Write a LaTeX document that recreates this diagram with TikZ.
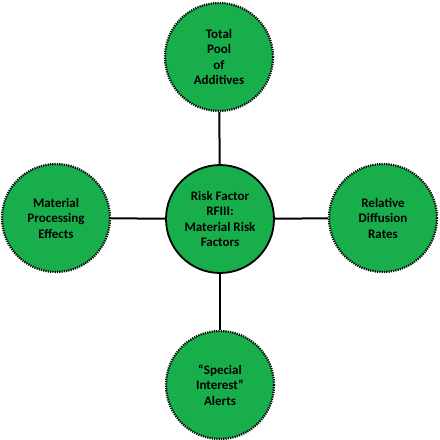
\documentclass[tikz,border=0pt]{standalone}
\usepackage{fontspec}
\setmainfont{Carlito}
\definecolor{ngreen}{RGB}{24,174,76}
\begin{document}
\begin{tikzpicture}[x=1pt,y=-1pt,
  outer/.style={circle,fill=ngreen,draw=black,line width=2.2pt,dash pattern=on 1.2pt off 1.1pt,minimum size=108pt,inner sep=0pt,align=center,font=\bfseries\fontsize{13}{15.5}\selectfont},
  inner/.style={circle,fill=ngreen,draw=black,line width=1.8pt,minimum size=108pt,inner sep=0pt,align=center,font=\bfseries\fontsize{13}{15.5}\selectfont},
  link/.style={draw=black,line width=2pt}]
\useasboundingbox (0,0) rectangle (440,440);
\node[inner] (c) at (220,219) {Risk Factor\\RFIII:\\Material Risk\\Factors};
\node[outer] (t) at (219,57) {Total\\Pool\\of\\Additives};
\node[outer] (l) at (56,218) {Material\\Processing\\Effects};
\node[outer] (r) at (383,218) {Relative\\Diffusion\\Rates};
\node[outer] (b) at (220,385) {“Special\\Interest”\\Alerts};
\draw[link] (c) -- (t);
\draw[link] (c) -- (l);
\draw[link] (c) -- (r);
\draw[link] (c) -- (b);
\end{tikzpicture}
\end{document}
